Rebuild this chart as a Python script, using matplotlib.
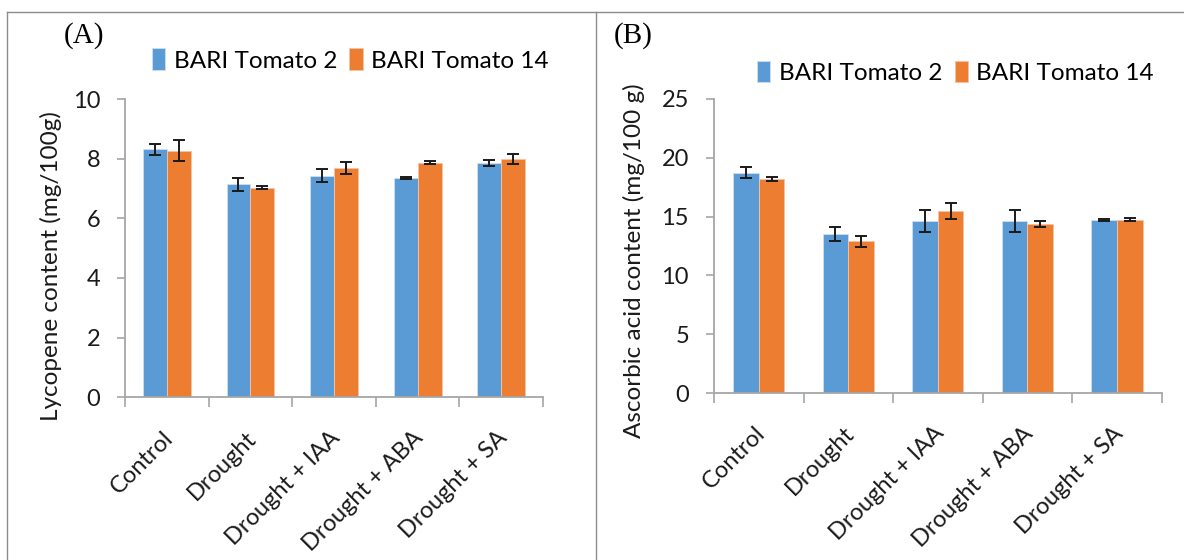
import numpy as np
import matplotlib.pyplot as plt
from matplotlib.lines import Line2D

categories = ['Control', 'Drought', 'Drought + IAA', 'Drought + ABA', 'Drought + SA']
series = ['BARI Tomato 2', 'BARI Tomato 14']

lyc_t2 = [8.31, 7.14, 7.43, 7.35, 7.86]
lyc_t2_err = [0.18, 0.22, 0.21, 0.04, 0.10]
lyc_t14 = [8.27, 7.02, 7.68, 7.86, 7.98]
lyc_t14_err = [0.35, 0.05, 0.20, 0.05, 0.16]

asc_t2 = [18.73, 13.52, 14.65, 14.65, 14.71]
asc_t2_err = [0.47, 0.58, 0.93, 0.93, 0.05]
asc_t14 = [18.19, 12.90, 15.47, 14.37, 14.74]
asc_t14_err = [0.20, 0.47, 0.68, 0.25, 0.15]

blue = '#5b9bd5'
orange = '#ed7d31'
grey = '#a6a6a6'

plt.rcParams['font.family'] = ['Lato', 'DejaVu Sans']

fig = plt.figure(figsize=(11.84, 5.6), dpi=100)

def panel(rect, v1, e1, v2, e2, ymax, step, ylabel, lab_xy, tag, tagx, leg):
    ax = fig.add_axes(rect)
    x = np.arange(len(categories))
    w = 0.286
    ekw = dict(ecolor='#1a1a1a', elinewidth=1.4, capsize=4.5, capthick=1.4)
    ax.bar(x - w/2, v1, w, color=blue, edgecolor='#cfe0f1', linewidth=0.6,
           yerr=e1, error_kw=ekw, label=series[0], zorder=2)
    ax.bar(x + w/2, v2, w, color=orange, edgecolor='#f6c4a4', linewidth=0.6,
           yerr=e2, error_kw=ekw, label=series[1], zorder=2)
    ax.set_xlim(-0.5, len(categories) - 0.5)
    ax.set_ylim(0, ymax)
    ax.set_yticks(np.arange(0, ymax + 0.1, step))
    ax.set_xticks(np.arange(-0.5, len(categories)))
    ax.set_xticklabels([])
    ax.tick_params(axis='x', length=7, color=grey, width=1.2, direction='out')
    ax.tick_params(axis='y', length=6, color=grey, width=1.2, labelsize=17,
                   pad=12, labelcolor='#1a1a1a')
    for i, c in enumerate(categories):
        ax.text(i + 0.03, -0.125, c, transform=ax.get_xaxis_transform(),
                rotation=45, ha='right', va='center', fontsize=17,
                rotation_mode='anchor', color='#1a1a1a')
    for s in ['top', 'right']:
        ax.spines[s].set_visible(False)
    for s in ['left', 'bottom']:
        ax.spines[s].set_color(grey)
        ax.spines[s].set_linewidth(1.3)
    ax.set_ylabel(ylabel, fontsize=17.5, color='#1a1a1a')
    ax.yaxis.set_label_coords(*lab_xy)
    fig.text(tagx, 0.936, tag, fontsize=21, family='Liberation Serif',
             ha='left', va='center')
    ax.legend(loc='center', bbox_to_anchor=leg,
              bbox_transform=fig.transFigure, ncol=2, frameon=False,
              fontsize=17.5, handlelength=0.55, handleheight=1.0,
              handletextpad=0.35, columnspacing=0.5)
    return ax

axA = panel([0.1056, 0.2905, 0.353, 0.5327], lyc_t2, lyc_t2_err, lyc_t14, lyc_t14_err,
            10, 2, 'Lycopene content (mg/100g)', (-0.15, 0.44),
            '(A)', 0.054, (0.296, 0.893))
axB = panel([0.603, 0.2977, 0.3782, 0.5259], asc_t2, asc_t2_err, asc_t14, asc_t14_err,
            25, 5, 'Ascorbic acid content (mg/100 g)', (-0.155, 0.45),
            '(B)', 0.518, (0.807, 0.871))

# panel frame lines
for (xs, ys) in [([0.006, 0.006], [0, 0.979]), ([0.006, 1.0], [0.979, 0.979]),
                 ([0.503, 0.503], [0, 0.979])]:
    fig.add_artist(Line2D(xs, ys, color='#8c8c8c', linewidth=1.0,
                          transform=fig.transFigure))

fig.savefig('out.png', dpi=100)
